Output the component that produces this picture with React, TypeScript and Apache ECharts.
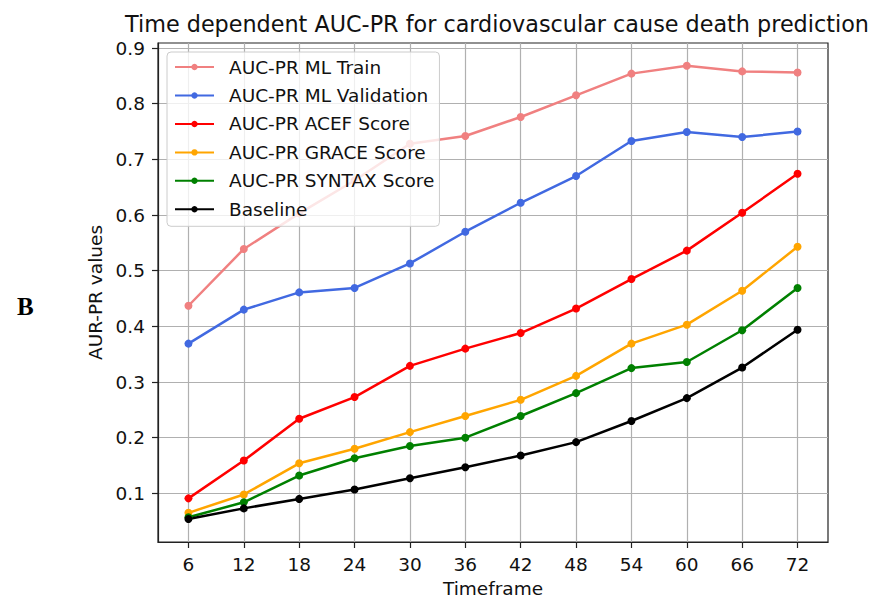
import React, { useEffect, useRef } from "react";
import * as echarts from "echarts";

const timeframes = [6, 12, 18, 24, 30, 36, 42, 48, 54, 60, 66, 72];
const yTicks = [0.1, 0.2, 0.3, 0.4, 0.5, 0.6, 0.7, 0.8, 0.9];

const mlTrain = [0.437, 0.539, 0.603, 0.662, 0.728, 0.742, 0.776, 0.815, 0.854, 0.868, 0.858, 0.856];
const mlValidation = [0.369, 0.43, 0.461, 0.469, 0.513, 0.57, 0.622, 0.67, 0.733, 0.749, 0.74, 0.75];
const acefScore = [0.091, 0.159, 0.234, 0.273, 0.329, 0.36, 0.388, 0.432, 0.485, 0.536, 0.604, 0.674];
const graceScore = [0.065, 0.098, 0.154, 0.18, 0.21, 0.239, 0.268, 0.311, 0.369, 0.403, 0.464, 0.543];
const syntaxScore = [0.057, 0.084, 0.132, 0.163, 0.185, 0.2, 0.239, 0.28, 0.325, 0.336, 0.393, 0.469];
const baseline = [0.054, 0.073, 0.09, 0.107, 0.127, 0.147, 0.168, 0.192, 0.23, 0.271, 0.326, 0.394];

const seriesDefs = [
  { name: "AUC-PR ML Train", data: mlTrain, color: "#f08080" },
  { name: "AUC-PR ML Validation", data: mlValidation, color: "#4169e1" },
  { name: "AUC-PR ACEF Score", data: acefScore, color: "#ff0000" },
  { name: "AUC-PR GRACE Score", data: graceScore, color: "#ffa500" },
  { name: "AUC-PR SYNTAX Score", data: syntaxScore, color: "#008000" },
  { name: "Baseline", data: baseline, color: "#000000" },
];

const FONT = "DejaVu Sans";
const FS = 18.5;

export default function App() {
  const ref = useRef<HTMLDivElement>(null);
  useEffect(() => {
    document.body.style.margin = "0";
    const chart = echarts.init(ref.current!, null, { renderer: "svg" });
    const axisCommon = {
      axisLine: { show: true, lineStyle: { color: "#222", width: 1.2 } },
      axisTick: { show: true, length: 6, lineStyle: { color: "#222", width: 1.2 } },
      splitLine: { show: true, lineStyle: { color: "#b0b0b0", width: 1.2 } },
    };
    chart.setOption({
      animation: false,
      backgroundColor: "#ffffff",
      title: {
        text: "Time dependent AUC-PR for cardiovascular cause death prediction",
        left: 492,
        textAlign: "center",
        top: 8,
        textStyle: { fontFamily: FONT, fontSize: 22.3, fontWeight: "normal", color: "#111" },
      },
      grid: {
        left: 158,
        right: 43,
        top: 43,
        bottom: 54,
        containLabel: false,
        outerBoundsMode: "none",
        show: true,
        borderColor: "#222",
        borderWidth: 1.2,
        backgroundColor: "transparent",
      },
      legend: {
        orient: "vertical",
        left: 167,
        top: 52,
        padding: [4, 5, 6, 7],
        itemWidth: 39,
        itemHeight: 8,
        itemGap: 6.46,
        backgroundColor: "rgba(255,255,255,0.8)",
        borderColor: "#cccccc",
        borderWidth: 1,
        borderRadius: 4,
        textStyle: {
          fontFamily: FONT,
          fontSize: FS,
          color: "#111",
          lineHeight: 22,
          padding: [0, 0, 0, 10],
        },
        data: seriesDefs.map((s) => s.name),
      },
      xAxis: {
        type: "value",
        min: 2.7,
        max: 75.3,
        name: "Timeframe",
        nameLocation: "middle",
        nameGap: 31,
        nameTextStyle: { fontFamily: FONT, fontSize: FS, color: "#111", lineHeight: 18 },
        ...axisCommon,
        axisTick: { ...axisCommon.axisTick, customValues: timeframes },
        axisLabel: {
          customValues: timeframes,
          fontFamily: FONT,
          fontSize: FS,
          color: "#111",
          margin: 13,
        },
      },
      yAxis: {
        type: "value",
        min: 0.0126,
        max: 0.909,
        name: "AUR-PR values",
        nameLocation: "middle",
        nameGap: 52,
        nameTextStyle: { fontFamily: FONT, fontSize: FS, color: "#111" },
        ...axisCommon,
        axisTick: { ...axisCommon.axisTick, customValues: yTicks },
        axisLabel: {
          customValues: yTicks,
          fontFamily: FONT,
          fontSize: FS,
          color: "#111",
          margin: 13,
          formatter: (v: number) => v.toFixed(1),
        },
      },
      graphic: [
        {
          type: "text",
          left: 17,
          top: 294,
          style: {
            text: "B",
            fontFamily: "Liberation Serif",
            fontWeight: "bold",
            fontSize: 25,
            fill: "#000",
          },
        },
      ],
      series: seriesDefs.map((s) => ({
        name: s.name,
        type: "line",
        data: s.data.map((v, i) => [timeframes[i], v]),
        symbol: "circle",
        symbolSize: 8,
        showSymbol: true,
        lineStyle: { color: s.color, width: 2.5 },
        itemStyle: { color: s.color },
        emphasis: { disabled: true },
      })),
    });
    return () => chart.dispose();
  }, []);
  return <div ref={ref} style={{ width: 871, height: 596 }} />;
}
